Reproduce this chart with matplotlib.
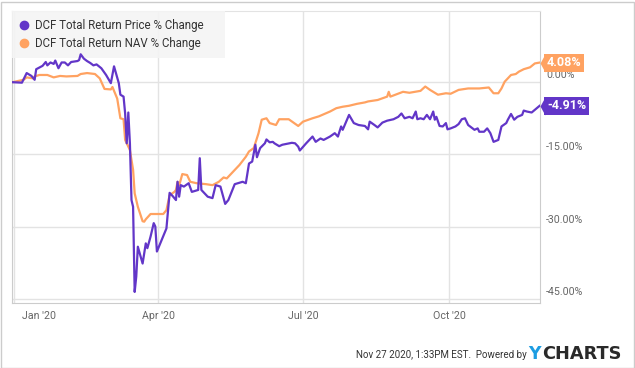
import pandas as pd
import matplotlib
matplotlib.use("Agg")
import matplotlib.pyplot as plt
from matplotlib.lines import Line2D
from matplotlib.patches import Rectangle
from matplotlib.path import Path
import matplotlib.transforms as mtransforms

plt.rcParams['font.family'] = ['Roboto', 'DejaVu Sans']

# DCF total return price % change
price_dates = [
    "2019-12-31", "2020-01-06", "2020-01-09", "2020-01-12", "2020-01-14", "2020-01-15",
    "2020-01-19", "2020-01-21", "2020-01-22", "2020-01-24", "2020-01-26", "2020-01-27",
    "2020-01-29", "2020-01-31", "2020-02-02", "2020-02-04", "2020-02-06", "2020-02-10",
    "2020-02-11", "2020-02-12", "2020-02-14", "2020-02-16", "2020-02-18", "2020-02-20",
    "2020-02-22", "2020-02-25", "2020-02-28", "2020-03-02", "2020-03-04", "2020-03-07",
    "2020-03-08", "2020-03-10", "2020-03-11", "2020-03-12", "2020-03-13", "2020-03-14",
    "2020-03-15", "2020-03-16", "2020-03-17", "2020-03-18", "2020-03-19", "2020-03-22",
    "2020-03-24", "2020-03-25", "2020-03-27", "2020-03-29", "2020-03-30", "2020-03-31",
    "2020-04-06", "2020-04-08", "2020-04-10", "2020-04-12", "2020-04-13", "2020-04-14",
    "2020-04-15", "2020-04-17", "2020-04-20", "2020-04-22", "2020-04-26", "2020-04-27",
    "2020-04-28", "2020-05-02", "2020-05-05", "2020-05-07", "2020-05-10", "2020-05-13",
    "2020-05-15", "2020-05-19", "2020-05-24", "2020-05-26", "2020-05-28", "2020-05-30",
    "2020-06-01", "2020-06-02", "2020-06-04", "2020-06-07", "2020-06-08", "2020-06-10",
    "2020-06-12", "2020-06-13", "2020-06-16", "2020-06-18", "2020-06-21", "2020-06-24",
    "2020-06-26", "2020-06-28", "2020-06-29", "2020-07-03", "2020-07-07", "2020-07-09",
    "2020-07-12", "2020-07-14", "2020-07-18", "2020-07-21", "2020-07-23", "2020-07-25",
    "2020-07-26", "2020-07-30", "2020-08-02", "2020-08-05", "2020-08-09", "2020-08-11",
    "2020-08-12", "2020-08-15", "2020-08-17", "2020-08-20", "2020-08-23", "2020-08-27",
    "2020-08-30", "2020-09-01", "2020-09-03", "2020-09-06", "2020-09-08", "2020-09-10",
    "2020-09-11", "2020-09-13", "2020-09-15", "2020-09-17", "2020-09-19", "2020-09-21",
    "2020-09-22", "2020-09-23", "2020-09-25", "2020-09-27", "2020-09-29", "2020-09-30",
    "2020-10-02", "2020-10-05", "2020-10-07", "2020-10-09", "2020-10-11", "2020-10-13",
    "2020-10-17", "2020-10-19", "2020-10-20", "2020-10-23", "2020-10-25", "2020-10-27",
    "2020-10-29", "2020-11-01", "2020-11-02", "2020-11-03", "2020-11-06", "2020-11-07",
    "2020-11-09", "2020-11-11", "2020-11-13", "2020-11-16", "2020-11-17", "2020-11-19",
    "2020-11-22", "2020-11-27",
]
price_vals = [
    0.0, -0.1, 1.9, 1.3, 0.5, 2.7,
    3.4, 4.2, 3.5, 4.1, 3.8, 4.5,
    2.9, 4.1, 4.1, 3.5, 4.2, 4.4,
    4.6, 5.8, 4.9, 4.4, 4.0, 3.5,
    3.7, 2.9, 1.5, -0.2, 3.3, -0.2,
    -2.6, -3.0, -6.5, -12.7, -6.3, -12.7,
    -24.5, -25.9, -43.6, -40.4, -34.2, -37.7,
    -33.5, -34.5, -32.1, -29.3, -30.0, -35.2,
    -30.4, -23.0, -23.7, -24.5, -20.7, -23.8,
    -21.4, -21.7, -21.0, -22.8, -22.4, -15.8,
    -22.4, -23.8, -24.1, -21.4, -21.7, -25.3,
    -24.5, -21.2, -20.7, -21.0, -16.9, -16.5,
    -13.0, -15.6, -13.7, -12.7, -11.9, -12.5,
    -12.4, -12.7, -13.3, -13.0, -12.8, -12.6,
    -12.7, -13.4, -14.2, -12.7, -11.3, -12.4,
    -11.7, -12.0, -11.3, -10.6, -11.3, -9.2,
    -9.9, -6.8, -8.5, -8.9, -9.1, -9.8,
    -8.2, -8.9, -9.4, -8.4, -8.0, -7.7,
    -7.2, -6.5, -7.5, -7.2, -7.5, -6.1,
    -7.7, -7.5, -7.7, -6.8, -7.7, -6.1,
    -7.8, -7.2, -9.1, -9.2, -8.5, -9.8,
    -9.6, -9.2, -8.7, -7.7, -7.5, -8.9,
    -9.9, -9.6, -10.3, -10.3, -9.6, -10.6,
    -12.4, -12.0, -10.6, -9.2, -8.5, -7.8,
    -6.6, -7.8, -7.2, -6.8, -5.9, -6.1,
    -6.3, -4.91,
]

# DCF total return NAV % change
nav_dates = [
    "2019-12-31", "2020-01-07", "2020-01-09", "2020-01-13", "2020-01-14", "2020-01-17",
    "2020-01-22", "2020-01-26", "2020-01-30", "2020-02-03", "2020-02-10", "2020-02-12",
    "2020-02-16", "2020-02-21", "2020-02-24", "2020-02-27", "2020-03-02", "2020-03-03",
    "2020-03-06", "2020-03-08", "2020-03-10", "2020-03-11", "2020-03-14", "2020-03-16",
    "2020-03-17", "2020-03-19", "2020-03-22", "2020-03-23", "2020-03-24", "2020-03-27",
    "2020-03-31", "2020-04-04", "2020-04-06", "2020-04-08", "2020-04-11", "2020-04-12",
    "2020-04-13", "2020-04-14", "2020-04-16", "2020-04-19", "2020-04-21", "2020-04-25",
    "2020-05-01", "2020-05-05", "2020-05-09", "2020-05-12", "2020-05-14", "2020-05-18",
    "2020-05-22", "2020-05-26", "2020-05-28", "2020-05-31", "2020-06-03", "2020-06-05",
    "2020-06-08", "2020-06-10", "2020-06-14", "2020-06-16", "2020-06-22", "2020-06-28",
    "2020-07-01", "2020-07-07", "2020-07-11", "2020-07-18", "2020-07-22", "2020-07-26",
    "2020-07-30", "2020-08-04", "2020-08-09", "2020-08-11", "2020-08-17", "2020-08-23",
    "2020-08-24", "2020-08-25", "2020-09-02", "2020-09-06", "2020-09-13", "2020-09-16",
    "2020-09-19", "2020-09-24", "2020-09-29", "2020-10-02", "2020-10-07", "2020-10-13",
    "2020-10-20", "2020-10-26", "2020-10-29", "2020-11-01", "2020-11-03", "2020-11-05",
    "2020-11-09", "2020-11-12", "2020-11-14", "2020-11-17", "2020-11-21", "2020-11-24",
    "2020-11-27",
]
nav_vals = [
    0.0, 0.5, 1.0, 0.8, 1.2, 1.5,
    1.5, 1.0, 1.3, 1.2, 1.3, 1.7,
    1.9, 1.7, 0.8, -1.4, -1.5, -1.0,
    -3.4, -7.5, -7.7, -12.0, -14.1, -18.2,
    -23.1, -25.9, -28.9, -29.0, -28.5, -27.4,
    -27.4, -27.4, -26.6, -23.5, -22.8, -22.4,
    -20.7, -21.5, -19.1, -19.3, -20.7, -21.0,
    -21.2, -21.4, -20.7, -19.8, -20.0, -18.6,
    -17.2, -15.5, -14.4, -13.7, -10.6, -7.8,
    -7.5, -8.5, -8.9, -7.7, -7.7, -9.1,
    -8.2, -7.5, -7.1, -6.1, -5.4, -5.1,
    -4.9, -4.5, -4.2, -4.0, -3.7, -3.0,
    -2.0, -3.0, -2.0, -2.2, -1.8, -0.9,
    -1.6, -2.6, -2.3, -2.4, -1.6, -1.3,
    -1.3, -1.1, -2.3, -2.3, -1.3, 0.1,
    1.5, 1.7, 2.2, 2.7, 3.1, 3.9,
    4.08,
]

y_ticks = [0, -15, -30, -45]
x_ticks = ["2020-01-01", "2020-04-01", "2020-07-01", "2020-10-01"]
x_labels = ["Jan '20", "Apr '20", "Jul '20", "Oct '20"]

purple = '#6236c8'
orange = '#ffa261'
grid_c = '#e3e3e3'
text_c = '#666666'

fig = plt.figure(figsize=(6.35, 3.68), dpi=100)
ax = fig.add_axes([12 / 635, 1 - 303 / 368, 528 / 635, 292 / 368])

ax.plot(pd.to_datetime(nav_dates), nav_vals, color=orange, lw=1.6, zorder=3)
ax.plot(pd.to_datetime(price_dates), price_vals, color=purple, lw=1.6, zorder=4)

ax.set_xlim(pd.Timestamp("2019-12-30 18:00"), pd.Timestamp("2020-11-27 06:00"))
ax.set_ylim(-45.9, 14.8)

ax.set_yticks(y_ticks)
ax.set_yticklabels([])
ax.tick_params(axis='y', length=0)
ax.set_xticks(pd.to_datetime(x_ticks))
ax.set_xticklabels(x_labels, fontsize=7.7, color=text_c)
ax.tick_params(axis='x', length=0, pad=6)
ax.grid(True, color=grid_c, lw=1)
ax.set_axisbelow(True)
for s in ['left', 'bottom', 'right']:
    ax.spines[s].set_color('#cccccc')
ax.spines['top'].set_color(grid_c)

# nudge the first date label to the right like the original
lab0 = ax.get_xticklabels()[0]
lab0.set_ha('left')
lab0.set_transform(lab0.get_transform() + mtransforms.ScaledTranslation(6 / 72, 0, fig.dpi_scale_trans))

# right side percent labels sitting just above the gridlines
ytrans = mtransforms.blended_transform_factory(ax.transAxes, ax.transData)
yoff = ytrans + mtransforms.ScaledTranslation(6 / 100, 7 / 100, fig.dpi_scale_trans)
for v in y_ticks:
    ax.text(1, v, f"{v:.2f}%", transform=yoff, ha='left', va='center',
            fontsize=7.7, color=text_c, clip_on=False)

# end value tags
tip = Path([(0, 0), (0.55, 1), (0.55, -1), (0, 0)])
for vals, c in [(nav_vals, orange), (price_vals, purple)]:
    last = vals[-1]
    ax.plot([1], [last], marker=tip, ms=13, color=c, mec='none',
            transform=ytrans, clip_on=False, zorder=6)
    ax.annotate(f"{last:.2f}%", xy=(1, last), xycoords=ytrans,
                xytext=(5, 0), textcoords='offset points', ha='left', va='center',
                color='white', fontsize=9, fontweight='bold', zorder=7,
                bbox=dict(boxstyle='square,pad=0.2', fc=c, ec='none'))

handles = [
    Line2D([], [], ls='none', marker='o', ms=6, color=purple),
    Line2D([], [], ls='none', marker='o', ms=6, color=orange),
]
leg = ax.legend(handles, ["DCF Total Return Price % Change", "DCF Total Return NAV % Change"],
                loc='upper left', bbox_to_anchor=(0, 1, 213 / 528, 0), mode='expand',
                borderaxespad=0, frameon=True, fancybox=False, framealpha=0.9,
                facecolor='#f4f4f4', edgecolor='none', fontsize=8.3,
                handlelength=0.7, handletextpad=0.6, borderpad=0.7, labelspacing=0.45,
                labelcolor='#333333')
leg.set_zorder(2.5)

# footer
fig.text(527 / 635, 1 - 355 / 368, "Nov 27 2020, 1:33PM EST.  Powered by",
         ha='right', va='center', fontsize=7, color='#333333')
fig.text(528 / 635, 1 - 354 / 368, "Y", ha='left', va='center', fontsize=12.5,
         fontweight='bold', color='#1d9de2', family='DejaVu Sans')
fig.text(542 / 635, 1 - 354 / 368, "CHARTS", ha='left', va='center', fontsize=12.8,
         fontweight='bold', color='#2a2a2a', family='DejaVu Sans')

fig.patches.append(Rectangle((0.5 / 635, 0.5 / 368), 633.5 / 635, 366 / 368,
                             transform=fig.transFigure, fill=False, ec='#cccccc', lw=1))

fig.savefig("out.png", dpi=100)
